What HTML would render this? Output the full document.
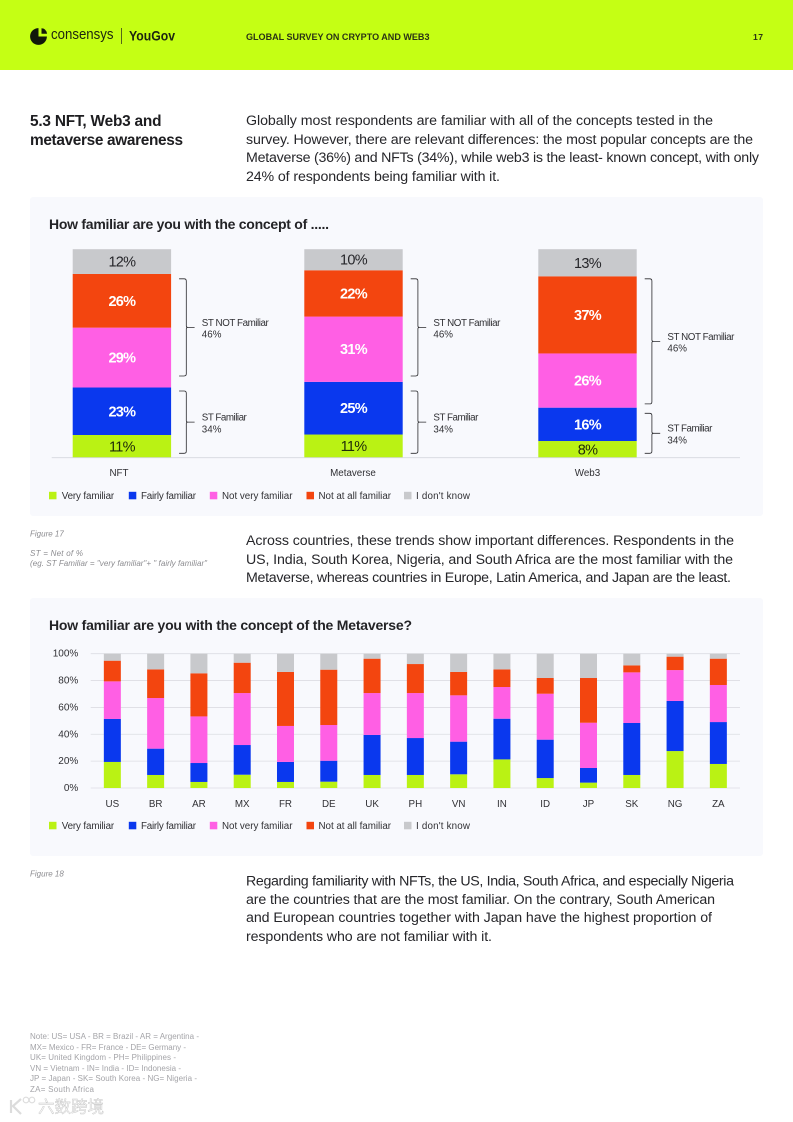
<!DOCTYPE html>
<html lang="en">
<head>
<meta charset="utf-8">
<title>Global Survey on Crypto and Web3 - page 17</title>
<style>
html,body{margin:0;padding:0;background:#fff;width:793px;height:1122px;overflow:hidden}
svg{display:block;font-family:"Liberation Sans","Noto Sans CJK SC",sans-serif}
.body{font-size:14.2px;fill:#26262a}
.head{font-size:15.4px;font-weight:700;fill:#1d1d20}
.title{font-size:14px;font-weight:700;fill:#232326}
.small{font-size:9.8px;fill:#303034}
.note{font-size:8px;fill:#a4a4a8}
.fig{font-size:8px;font-style:italic;fill:#8c8c90}
</style>
</head>
<body>
<svg id="page" width="793" height="1122" viewBox="0 0 793 1122" xmlns="http://www.w3.org/2000/svg">
  <rect x="0" y="0" width="793" height="70" fill="#c5ff14"/>
  <g>
    <circle cx="38.5" cy="36.5" r="8.4" fill="#12180a"/>
    <path d="M38.5 36.5h8.6v-9h-8.6z" fill="#c5ff14"/>
    <path d="M41.5 33.8v-5.6q4.8.2 5.6 5.6z" fill="#12180a"/>
    <text x="51" y="39" font-size="14.5" fill="#1c2410" textLength="62.5" lengthAdjust="spacingAndGlyphs">consensys</text>
  </g>
  <rect x="121" y="28" width="0.8" height="16" fill="#39421a"/>
  <text x="129" y="40.5" font-size="13.4" font-weight="700" fill="#1c2410" textLength="46" lengthAdjust="spacingAndGlyphs">YouGov</text>
  <text x="246" y="39.8" font-size="8.8" font-weight="700" fill="#2a3315" textLength="183.5" lengthAdjust="spacingAndGlyphs">GLOBAL SURVEY ON CRYPTO AND WEB3</text>
  <text x="753" y="40" font-size="8.6" font-weight="700" fill="#2a3315" textLength="10">17</text>

  <g>
    <text class="head" x="30" y="126" textLength="131.5">5.3 NFT, Web3 and</text>
    <text class="head" x="30" y="145" textLength="153">metaverse awareness</text>
  </g>
  <g>
    <text class="body" x="246" y="125" textLength="467">Globally most respondents are familiar with all of the concepts tested in the</text>
    <text class="body" x="246" y="144" textLength="507">survey. However, there are relevant differences: the most popular concepts are the</text>
    <text class="body" x="246" y="162" textLength="513">Metaverse (36%) and NFTs (34%), while web3 is the least- known concept, with only</text>
    <text class="body" x="246" y="181" textLength="254">24% of respondents being familiar with it.</text>
  </g>

  <rect x="30" y="197" width="733" height="319" rx="3" fill="#f8f9fd"/>
  <text class="title" x="49" y="229" textLength="280">How familiar are you with the concept of .....</text>
  <g id="chart1"></g>

  <g>
    <text class="fig" x="30" y="536.5">Figure 17</text>
    <text class="fig" x="30" y="556" textLength="53">ST = Net of %</text>
    <text class="fig" x="30" y="566" textLength="177">(eg. ST Familiar = "very familiar"+ " fairly familiar"</text>
  </g>
  <g>
    <text class="body" x="246" y="545" textLength="488">Across countries, these trends show important differences. Respondents in the</text>
    <text class="body" x="246" y="564" textLength="487">US, India, South Korea, Nigeria, and South Africa are the most familiar with the</text>
    <text class="body" x="246" y="582" textLength="485">Metaverse, whereas countries in Europe, Latin America, and Japan are the least.</text>
  </g>

  <rect x="30" y="598" width="733" height="258" rx="3" fill="#f8f9fd"/>
  <text class="title" x="49" y="630" textLength="363">How familiar are you with the concept of the Metaverse?</text>
  <g id="chart2"></g>

  <text class="fig" x="30" y="876.5">Figure 18</text>
  <g>
    <text class="body" x="246" y="885.5" textLength="488">Regarding familiarity with NFTs, the US, India, South Africa, and especially Nigeria</text>
    <text class="body" x="246" y="904" textLength="469">are the countries that are the most familiar. On the contrary, South American</text>
    <text class="body" x="246" y="922" textLength="466">and European countries together with Japan have the highest proportion of</text>
    <text class="body" x="246" y="941" textLength="246">respondents who are not familiar with it.</text>
  </g>

  <g>
    <text class="note" x="30" y="1039" textLength="169">Note: US= USA - BR = Brazil - AR = Argentina -</text>
    <text class="note" x="30" y="1050" textLength="156">MX= Mexico - FR= France - DE= Germany -</text>
    <text class="note" x="30" y="1060" textLength="146">UK= United Kingdom - PH= Philippines -</text>
    <text class="note" x="30" y="1071" textLength="151">VN = Vietnam - IN= India - ID= Indonesia -</text>
    <text class="note" x="30" y="1081" textLength="167">JP = Japan - SK= South Korea - NG= Nigeria -</text>
    <text class="note" x="30" y="1092" textLength="64">ZA= South Africa</text>
  </g>

  <g>
    <path d="M11 1100v13M21 1099l-8 7 8 8" fill="none" stroke="#dcdcdc" stroke-width="2.2"/>
    <circle cx="26" cy="1100" r="2.8" fill="none" stroke="#dcdcdc" stroke-width="1.1"/>
    <circle cx="32" cy="1100" r="2.8" fill="none" stroke="#dcdcdc" stroke-width="1.1"/>
    <text x="38" y="1112.5" font-size="16.5" fill="#fafafa" stroke="#c6c6c6" stroke-width="0.45" font-family="'Liberation Sans','Noto Sans CJK SC',sans-serif">六数跨境</text>
  </g>
</svg>

<script>
// ---------- shared data ----------
const seriesNames = ['Very familiar', 'Fairly familiar', 'Not very familiar', 'Not at all familiar', "I don't know"];

// ---------- chart 1: concepts ----------
const conceptCategories = ['NFT', 'Metaverse', 'Web3'];
const conceptVeryFamiliar = [11, 11, 8];
const conceptFairlyFamiliar = [23, 25, 16];
const conceptNotVeryFamiliar = [29, 31, 26];
const conceptNotAtAllFamiliar = [26, 22, 37];
const conceptDontKnow = [12, 10, 13];
const conceptNetNotFamiliar = ['46%', '46%', '46%'];
const conceptNetFamiliar = ['34%', '34%', '34%'];

// ---------- chart 2: countries ----------
const countryCategories = ['US', 'BR', 'AR', 'MX', 'FR', 'DE', 'UK', 'PH', 'VN', 'IN', 'ID', 'JP', 'SK', 'NG', 'ZA'];
const countryVeryFamiliar = [19.4, 9.7, 4.5, 9.9, 4.5, 4.7, 9.7, 9.7, 10.2, 21.3, 7.4, 4, 9.7, 27.5, 17.9];
const countryFairlyFamiliar = [32, 19.6, 14.1, 22.1, 14.9, 15.6, 29.8, 27.5, 24.3, 30.3, 28.6, 10.9, 38.7, 37.3, 31.2];
const countryNotVeryFamiliar = [28, 37.7, 34.7, 38.7, 26.8, 26.6, 31.2, 33.5, 34.5, 23.6, 34.2, 33.7, 37.7, 23, 27.6];
const countryNotAtAllFamiliar = [15.4, 21.3, 32.1, 22.6, 40.2, 41.2, 25.6, 21.6, 17.4, 13.1, 11.7, 33.3, 5.2, 10, 19.6];
const countryDontKnow = [5.2, 11.7, 14.6, 6.7, 13.6, 11.9, 3.7, 7.7, 13.6, 11.7, 18.1, 18.1, 8.7, 2.2, 3.7];
const countryTicks = [0, 20, 40, 60, 80, 100];

const COLORS = ['#baf214', '#0a38ee', '#ff5fe4', '#f3450f', '#c8c9cc'];
const LABEL_COLORS = ['#1f2a0a', '#ffffff', '#ffffff', '#ffffff', '#26262a'];
const SVGNS = 'http://www.w3.org/2000/svg';

function make(parent, tag, attrs, text) {
  const el = document.createElementNS(SVGNS, tag);
  for (const k in attrs) el.setAttribute(k, attrs[k]);
  if (text !== undefined) el.textContent = text;
  parent.appendChild(el);
  return el;
}

function slug(s) {
  return String(s).toLowerCase().replace(/[^a-z0-9]+/g, '-');
}

function drawLegend(parent, y) {
  const swatchX = [49, 128.8, 209.8, 306.5, 404];
  const textX = [61.7, 141, 222, 318.5, 416];
  const textW = [52.5, 55, 70.5, 72.5, 54];
  const g = make(parent, 'g', {});
  
  
  seriesNames.forEach(function (name, i) {
    const sw = make(g, 'rect', { x: swatchX[i], y: y - 3.8, width: 7.5, height: 7.5, fill: COLORS[i] });
    
    
    const t = make(g, 'text', { x: textX[i], y: y + 3.4, 'class': 'small', textLength: textW[i] }, name);
    
    
  });
}

// ---------- chart 1 drawing ----------
(function () {
  const root = document.getElementById('chart1');
  const baseY = 457.7, plotH = 208.5, barW = 98.4;
  const centers = [121.9, 353.5, 587.5];
  const labelCenters = [119, 353, 587.5];
  const y = function (pct) { return baseY - pct / 100 * plotH; };
  const stacks = [conceptVeryFamiliar, conceptFairlyFamiliar, conceptNotVeryFamiliar, conceptNotAtAllFamiliar, conceptDontKnow];

  conceptCategories.forEach(function (cat, c) {
    const total = stacks.reduce(function (s, a) { return s + a[c]; }, 0);
    let acc = 0;
    stacks.forEach(function (arr, s) {
      const v = arr[c] / total * 100;
      const y1 = y(acc), y2 = y(acc + v);
      const r = make(root, 'rect', { x: centers[c] - barW / 2, y: y2, width: barW, height: y1 - y2, fill: COLORS[s] });
      
      
      const t = make(root, 'text', {
        x: centers[c], y: (y1 + y2) / 2 + 5, 'text-anchor': 'middle', 'font-size': 14.5,
        'letter-spacing': -0.7, fill: LABEL_COLORS[s], 'font-weight': (s >= 1 && s <= 3) ? 700 : 400
      }, arr[c] + '%');
      
      
      acc += v;
    });
    const lab = make(root, 'text', { x: labelCenters[c], y: 475.8, 'class': 'small', 'text-anchor': 'middle' }, cat);
    
    

    // brackets grouping "not familiar" and "familiar" segments
    const isWeb3 = c === 2;
    const spans = [
      { top: 85.8, bottom: isWeb3 ? 25.8 : 39.2, title: 'ST NOT Familiar', width: 67, value: conceptNetNotFamiliar[c] },
      { top: isWeb3 ? 21.3 : 32, bottom: 2.1, title: 'ST Familiar', width: 45, value: conceptNetFamiliar[c] }
    ];
    const bx = centers[c] + barW / 2 + 8;
    spans.forEach(function (sp, i) {
      const t0 = y(sp.top), b0 = y(sp.bottom), m = (t0 + b0) / 2;
      const d = 'M' + bx + ' ' + t0 + 'h5q2.2 0 2.2 2.2V' + (m - 1.4) + 'q0 1.4 1.6 1.4h6.7h-6.7q-1.6 0-1.6 1.4V' + (b0 - 2.2) + 'q0 2.2-2.2 2.2h-5';
      const p = make(root, 'path', { d: d, fill: 'none', stroke: '#2b2b2e', 'stroke-width': 0.8 });
      
      
      const a = make(root, 'text', { x: bx + 22.7, y: m - 1.6, 'class': 'small', textLength: sp.width }, sp.title);
      
      
      const b = make(root, 'text', { x: bx + 22.7, y: m + 10.2, 'class': 'small' }, sp.value);
      
      
    });
  });

  const axis = make(root, 'line', { x1: 51.7, x2: 740, y1: baseY, y2: baseY, stroke: '#d5d7de', 'stroke-width': 0.8 });
  
  
  drawLegend(root, 495.6);
})();

// ---------- chart 2 drawing ----------
(function () {
  const root = document.getElementById('chart2');
  const left = 90.7, right = 740, baseY = 788, topY = 653.7, barW = 17;
  const band = (right - left) / countryCategories.length;
  const x = function (i) { return left + band * (i + 0.5); };
  const y = function (pct) { return baseY - pct / 100 * (baseY - topY); };
  const stacks = [countryVeryFamiliar, countryFairlyFamiliar, countryNotVeryFamiliar, countryNotAtAllFamiliar, countryDontKnow];

  countryTicks.forEach(function (tick) {
    const g = make(root, 'line', { x1: left, x2: right, y1: y(tick), y2: y(tick), stroke: '#dcdde3', 'stroke-width': 0.8 });
    
    
    const t = make(root, 'text', { x: 78.3, y: y(tick) + 3, 'text-anchor': 'end', 'font-size': 10, fill: '#303034' }, tick + '%');
    
    
  });

  countryCategories.forEach(function (cat, c) {
    const total = stacks.reduce(function (s, a) { return s + a[c]; }, 0);
    let acc = 0;
    stacks.forEach(function (arr, s) {
      const v = arr[c] / total * 100;
      const y1 = y(acc), y2 = y(acc + v);
      const r = make(root, 'rect', { x: x(c) - barW / 2, y: y2, width: barW, height: y1 - y2, fill: COLORS[s] });
      
      
      acc += v;
    });
    const lab = make(root, 'text', { x: x(c), y: 806.8, 'class': 'small', 'text-anchor': 'middle' }, cat);
    
    
  });
  drawLegend(root, 825.6);
})();
</script>
</body>
</html>
